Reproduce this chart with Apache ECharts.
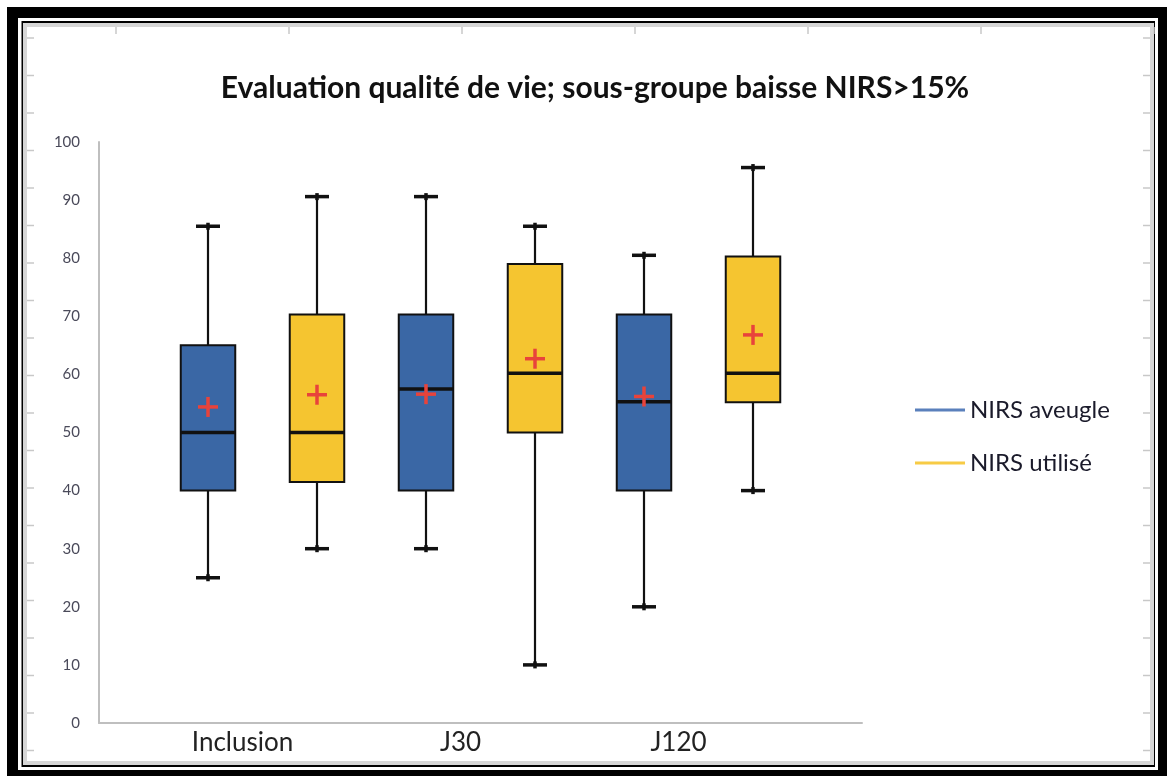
<!DOCTYPE html>
<html>
<head>
<meta charset="utf-8">
<script src="https://cdn.jsdelivr.net/npm/echarts@6/dist/echarts.min.js"></script>
<style>
html,body{margin:0;padding:0;background:#fff;}
#chart{width:1167px;height:776px;}
</style>
</head>
<body>
<div id="chart"></div>
<script>
// ---- data ----
const categories = ['Inclusion', 'J30', 'J120'];
const seriesNames = ['NIRS aveugle', 'NIRS utilisé'];
const yTicks = [0, 10, 20, 30, 40, 50, 60, 70, 80, 90, 100];

const aveugleMin    = [25, 30, 20];
const aveugleQ1     = [40, 40, 40];
const aveugleMedian = [50, 57.5, 55.3];
const aveugleQ3     = [65, 70.3, 70.3];
const aveugleMax    = [85.5, 90.6, 80.5];
const aveugleMean   = [54.4, 56.6, 56.2];

const utiliseMin    = [30, 10, 40];
const utiliseQ1     = [41.5, 50, 55.2];
const utiliseMedian = [50, 60.2, 60.2];
const utiliseQ3     = [70.3, 79, 80.3];
const utiliseMax    = [90.6, 85.5, 95.6];
const utiliseMean   = [56.5, 62.7, 66.8];

// ---- build ----
const fills = ['#3a67a5', '#f5c530'];
const legendColors = ['#5a80bc', '#f7cb45'];

function buildData(s, mins, q1, med, q3, maxs, means) {
  return categories.map((c, i) => [1 + 2 * i + s, mins[i], q1[i], med[i], q3[i], maxs[i], means[i]]);
}
const groups = [
  buildData(0, aveugleMin, aveugleQ1, aveugleMedian, aveugleQ3, aveugleMax, aveugleMean),
  buildData(1, utiliseMin, utiliseQ1, utiliseMedian, utiliseQ3, utiliseMax, utiliseMean)
];

function makeRender(fill) {
  return function (params, api) {
    const x = api.value(0);
    const pMin = api.coord([x, api.value(1)]);
    const pQ1 = api.coord([x, api.value(2)]);
    const pMed = api.coord([x, api.value(3)]);
    const pQ3 = api.coord([x, api.value(4)]);
    const pMax = api.coord([x, api.value(5)]);
    const pMean = api.coord([x, api.value(6)]);
    const cx = pMin[0];
    const halfW = api.size([0.5, 0])[0] / 2;
    const capW = 12;
    const stroke = '#111';
    const ln = (x1, y1, x2, y2, w, c) => ({
      type: 'line', shape: {x1, y1, x2, y2},
      style: {stroke: c || stroke, lineWidth: w}
    });
    return {
      type: 'group',
      children: [
        ln(cx, pQ1[1], cx, pMin[1], 2.2),
        ln(cx, pQ3[1], cx, pMax[1], 2.2),
        ln(cx - capW, pMin[1], cx + capW, pMin[1], 3.5),
        ln(cx, pMin[1] - 3.5, cx, pMin[1] + 3.5, 3.5),
        ln(cx - capW, pMax[1], cx + capW, pMax[1], 3.5),
        ln(cx, pMax[1] - 3.5, cx, pMax[1] + 3.5, 3.5),
        {
          type: 'rect',
          shape: {x: cx - halfW, y: pQ3[1], width: halfW * 2, height: pQ1[1] - pQ3[1]},
          style: {fill: fill, stroke: stroke, lineWidth: 2}
        },
        ln(cx - halfW, pMed[1], cx + halfW, pMed[1], 3.5),
        ln(cx - 10, pMean[1], cx + 10, pMean[1], 3.5, '#e8433b'),
        ln(cx, pMean[1] - 10, cx, pMean[1] + 10, 3.5, '#e8433b')
      ]
    };
  };
}

const frame = [
  {type: 'rect', shape: {x: 7, y: 7, width: 1160, height: 769}, style: {fill: '#000'}, z: -10, silent: true},
  {type: 'rect', shape: {x: 18, y: 18, width: 1140, height: 752}, style: {fill: '#fff'}, z: -9, silent: true},
  {type: 'rect', shape: {x: 21.5, y: 21, width: 1133.5, height: 746}, style: {fill: '#000'}, z: -8, silent: true},
  {type: 'rect', shape: {x: 25, y: 25, width: 1127, height: 738}, style: {fill: '#fff', stroke: '#d6d6d6', lineWidth: 4}, z: -7, silent: true}
];
// faint spreadsheet cell marks around the edge
for (let k = 0; k < 20; k++) {
  const y = 38 + 37.5 * k;
  if (y > 755) break;
  frame.push({type: 'line', shape: {x1: 27, y1: y, x2: 34, y2: y}, style: {stroke: '#c8c8c8', lineWidth: 1.5}, z: -6, silent: true});
  frame.push({type: 'line', shape: {x1: 1143, y1: y, x2: 1150, y2: y}, style: {stroke: '#c8c8c8', lineWidth: 1.5}, z: -6, silent: true});
}
for (let k = 0; k < 7; k++) {
  const x = 116 + 173 * k;
  frame.push({type: 'line', shape: {x1: x, y1: 27, x2: x, y2: 34}, style: {stroke: '#c8c8c8', lineWidth: 1.5}, z: -6, silent: true});
}

const chart = echarts.init(document.getElementById('chart'), null, {renderer: 'canvas'});
chart.setOption({
  animation: false,
  backgroundColor: 'transparent',
  graphic: frame,
  title: {
    text: 'Evaluation qualité de vie; sous-groupe baisse NIRS>15%',
    left: 590, top: 68, textAlign: 'center',
    textStyle: {fontFamily: 'Lato', fontWeight: 'bold', fontSize: 30, color: '#111'}
  },
  legend: {
    orient: 'vertical', left: 910, top: 391,
    itemWidth: 50, itemHeight: 3, itemGap: 25, icon: 'rect',
    textStyle: {fontFamily: 'Lato', fontSize: 24, color: '#1a1a2a', lineHeight: 28},
    data: seriesNames.map((n, i) => ({name: n, itemStyle: {color: legendColors[i]}}))
  },
  grid: {left: 99, right: 305, top: 142, bottom: 53, containLabel: false},
  xAxis: {
    type: 'value', min: 0, max: 7, interval: 0.5,
    axisLine: {show: true, lineStyle: {color: '#bfbfbf', width: 2}},
    axisTick: {show: false}, splitLine: {show: false},
    axisLabel: {
      margin: 7, fontFamily: 'Lato', fontSize: 26, color: '#222',
      padding: [0, 40, 0, 0],
      formatter: v => {
        const i = (v - 1.5) / 2;
        return Number.isInteger(i) && categories[i] ? categories[i] : '';
      }
    }
  },
  yAxis: {
    type: 'value', min: yTicks[0], max: yTicks[yTicks.length - 1], interval: yTicks[1] - yTicks[0],
    axisLine: {show: true, lineStyle: {color: '#bfbfbf', width: 2}},
    axisTick: {show: false}, splitLine: {show: false},
    axisLabel: {margin: 19, fontFamily: 'Lato', fontSize: 15, color: '#4a4a5a'}
  },
  series: seriesNames.map((n, s) => ({
    name: n, type: 'custom',
    itemStyle: {color: legendColors[s]},
    renderItem: makeRender(fills[s]),
    encode: {x: 0, y: [1, 2, 3, 4, 5, 6]},
    data: groups[s]
  }))
});
</script>
</body>
</html>
